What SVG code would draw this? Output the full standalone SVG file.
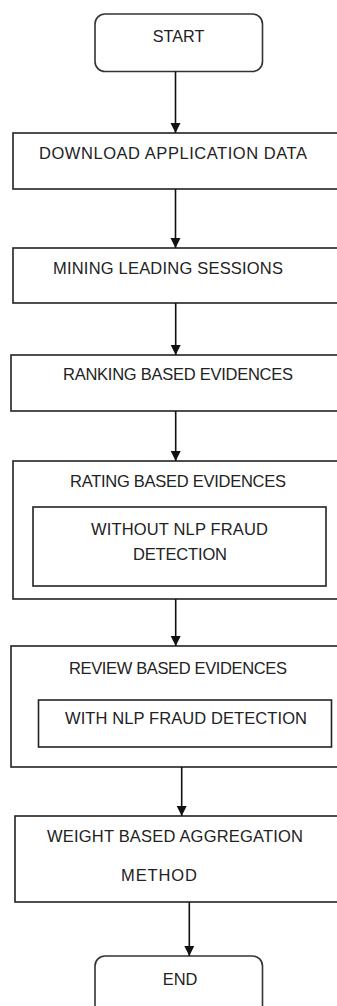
<svg xmlns="http://www.w3.org/2000/svg" width="337" height="1006" viewBox="0 0 337 1006">
<style>
.box{fill:#fff;stroke:#222;stroke-width:1.6}
.term{fill:#fff;stroke:#333;stroke-width:1.6}
.t{font-family:"Liberation Sans",Arial,sans-serif;font-size:16.5px;fill:#222}
.conn line{stroke:#111;stroke-width:1.6;marker-end:url(#ah)}
</style>
<defs>
<marker id="ah" markerUnits="userSpaceOnUse" markerWidth="12" markerHeight="12" refX="10" refY="5" orient="auto">
<path d="M0,0 L10,5 L0,10 Z" fill="#111"/>
</marker>
</defs>
<rect width="337" height="1006" fill="#fff"/>
<g id="start">
<rect class="term" x="95" y="14" width="167.5" height="57.5" rx="10"/>
<text class="t" x="152.7" y="42" textLength="51.7" lengthAdjust="spacingAndGlyphs">START</text>
</g>
<g id="download">
<rect class="box" x="13" y="133" width="340" height="56"/>
<text class="t" x="39" y="158.5" textLength="268">DOWNLOAD APPLICATION DATA</text>
</g>
<g id="mining">
<rect class="box" x="13" y="248" width="340" height="55"/>
<text class="t" x="53" y="274" textLength="230">MINING LEADING SESSIONS</text>
</g>
<g id="ranking">
<rect class="box" x="11" y="355" width="340" height="56"/>
<text class="t" x="63" y="380" textLength="230">RANKING BASED EVIDENCES</text>
</g>
<g id="rating">
<rect class="box" x="13" y="461" width="340" height="138"/>
<text class="t" x="70" y="487" textLength="216">RATING BASED EVIDENCES</text>
<g id="without-nlp">
<rect class="box" x="33" y="507" width="293" height="79"/>
<text class="t" x="91" y="535" textLength="177">WITHOUT NLP FRAUD</text>
<text class="t" x="133" y="560" textLength="94">DETECTION</text>
</g>
</g>
<g id="review">
<rect class="box" x="11" y="646" width="340" height="121"/>
<text class="t" x="69" y="674" textLength="218">REVIEW BASED EVIDENCES</text>
<g id="with-nlp">
<rect class="box" x="38.5" y="700" width="293" height="47"/>
<text class="t" x="65" y="724" textLength="242">WITH NLP FRAUD DETECTION</text>
</g>
</g>
<g id="weight">
<rect class="box" x="15" y="816" width="340" height="86"/>
<text class="t" x="47" y="842" textLength="256">WEIGHT BASED AGGREGATION</text>
<text class="t" x="121" y="881" textLength="76">METHOD</text>
</g>
<g id="end">
<rect class="term" x="95" y="956" width="167.5" height="70" rx="10"/>
<text class="t" x="162.7" y="985" textLength="34.7" lengthAdjust="spacingAndGlyphs">END</text>
</g>
<g id="connectors" class="conn">
<line x1="175.5" y1="71.5" x2="175.5" y2="133"/>
<line x1="175.5" y1="189" x2="175.5" y2="248"/>
<line x1="175.7" y1="303" x2="175.7" y2="355"/>
<line x1="175.7" y1="411" x2="175.7" y2="461"/>
<line x1="175.7" y1="599" x2="175.7" y2="646"/>
<line x1="181.7" y1="767" x2="181.7" y2="816"/>
<line x1="189.3" y1="902" x2="189.3" y2="956"/>
</g>
</svg>
